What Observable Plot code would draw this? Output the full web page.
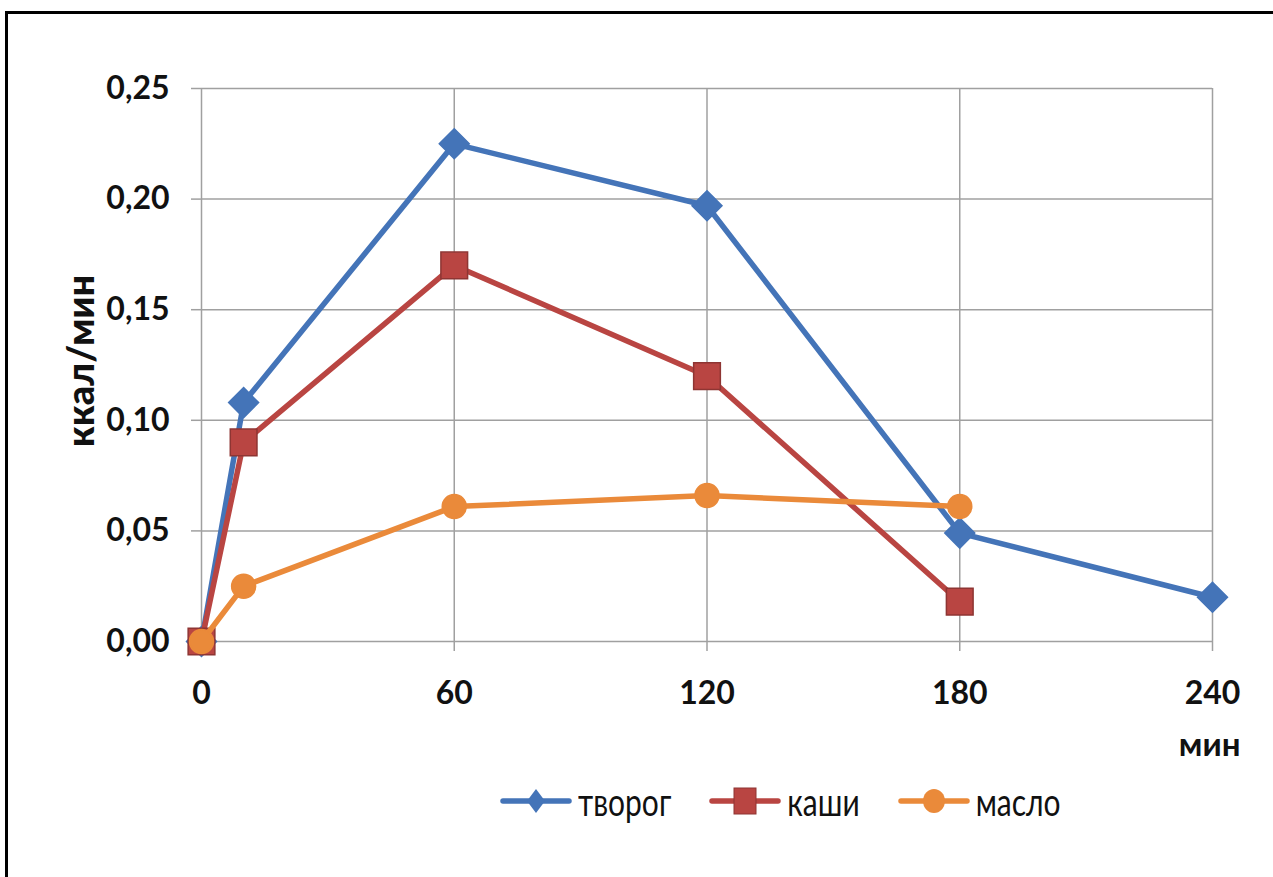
<!DOCTYPE html>
<html><head><meta charset="utf-8">
<script src="https://cdn.jsdelivr.net/npm/d3@7"></script>
<script src="https://cdn.jsdelivr.net/npm/@observablehq/plot@0.6"></script>
<style>
body{margin:0;background:#fff;width:1273px;height:877px;overflow:hidden;position:relative;font-family:Lato,"Open Sans",sans-serif}
#frame{position:absolute;left:5px;top:11px;width:1300px;height:900px;border-left:3px solid #000;border-top:3px solid #000;}
#chart{position:absolute;left:0;top:0}
#legend{position:absolute;top:780px;left:500px;display:flex;align-items:center;font-size:30px;color:#111}
#legend .item{display:flex;align-items:center;margin-right:38px}
#legend svg{margin-right:6px}
#legend span{display:inline-block;transform:scaleY(1.28)}
</style></head>
<body>
<div id="frame"></div>
<div id="chart"></div>
<div id="legend"></div>
<script>
const seriesNames = ["творог", "каши", "масло"];
const tvorogX = [0, 10, 60, 120, 180, 240];
const tvorogY = [0, 0.108, 0.225, 0.197, 0.049, 0.020];
const kashiX = [0, 10, 60, 120, 180];
const kashiY = [0, 0.090, 0.170, 0.120, 0.018];
const masloX = [0, 10, 60, 120, 180];
const masloY = [0, 0.025, 0.061, 0.066, 0.061];
const xTicks = [0, 60, 120, 180, 240];
const yTicks = [0, 0.05, 0.10, 0.15, 0.20, 0.25];
const colors = ["#4474b8", "#b94542", "#ea8a3a"];
const strokes = ["#4474b8", "#8e3533", "#ea8a3a"];
const symbols = ["diamond2", "square2", "circle"];
const radii = [13.5, 17, 12];

const xs = [tvorogX, kashiX, masloX], ys = [tvorogY, kashiY, masloY];
const data = [];
seriesNames.forEach((s, i) => xs[i].forEach((x, j) => data.push({series: s, i, t: x, v: ys[i][j]})));

const marks = [
  Plot.gridY(yTicks, {stroke: "#a0a0a0", strokeOpacity: 1, strokeWidth: 1.5}),
  Plot.gridX(xTicks, {stroke: "#a0a0a0", strokeOpacity: 1, strokeWidth: 1.5}),
  Plot.axisY({ticks: yTicks, tickSize: 10, tickPadding: 22, stroke: "#a0a0a0", strokeWidth: 1.5,
    tickFormat: d => d.toFixed(2).replace(".", ","), fontSize: 32, fontWeight: "bold", fill: "#111", label: null}),
  Plot.axisX({ticks: xTicks, tickSize: 10, tickPadding: 30, stroke: "#a0a0a0", strokeWidth: 1.5,
    fontSize: 32, fontWeight: "bold", fill: "#111", label: null}),
  Plot.text(["ккал/мин"], {frameAnchor: "left", rotate: -90, lineAnchor: "middle", textAnchor: "middle", dx: -120, dy: -4,
    fontSize: 38, fontWeight: 900, fill: "#111"}),
  Plot.text(["мин"], {frameAnchor: "bottom-right", lineAnchor: "middle", textAnchor: "end", dx: 28, dy: 104,
    fontSize: 33, fontWeight: "bold", fill: "#111"})
];
seriesNames.forEach((s, i) => {
  const d = data.filter(r => r.i === i);
  marks.push(Plot.line(d, {x: "t", y: "v", stroke: colors[i], strokeWidth: 5.5}));
  marks.push(Plot.dot(d, {x: "t", y: "v", symbol: () => symbols[i], r: radii[i], fill: colors[i], stroke: strokes[i], strokeWidth: 1.5}));
});

const chart = Plot.plot({
  width: 1273, height: 877,
  marginLeft: 201, marginRight: 61, marginTop: 88, marginBottom: 236,
  style: {fontFamily: "Lato, 'Open Sans', sans-serif", background: "transparent", overflow: "visible"},
  x: {domain: [0, 240]},
  y: {domain: [0, 0.25]},
  marks
});
document.getElementById("chart").appendChild(chart);

const legend = document.getElementById("legend");
seriesNames.forEach((s, i) => {
  const item = document.createElement("div");
  item.className = "item";
  const shape = symbols[i] === "diamond2" ? `<polygon points="36,9 45,21 36,33 27,21" fill="${colors[i]}"/>`
    : symbols[i] === "square2" ? `<rect x="25" y="8" width="22" height="26" fill="${colors[i]}" stroke="${strokes[i]}" stroke-width="1"/>`
    : `<ellipse cx="36" cy="21" rx="11" ry="12" fill="${colors[i]}"/>`;
  item.innerHTML = `<svg width="72" height="42"><line x1="3" x2="69" y1="21" y2="21" stroke="${colors[i]}" stroke-width="5.5" stroke-linecap="round"/>${shape}</svg><span>${s}</span>`;
  legend.appendChild(item);
});
</script>
</body></html>
